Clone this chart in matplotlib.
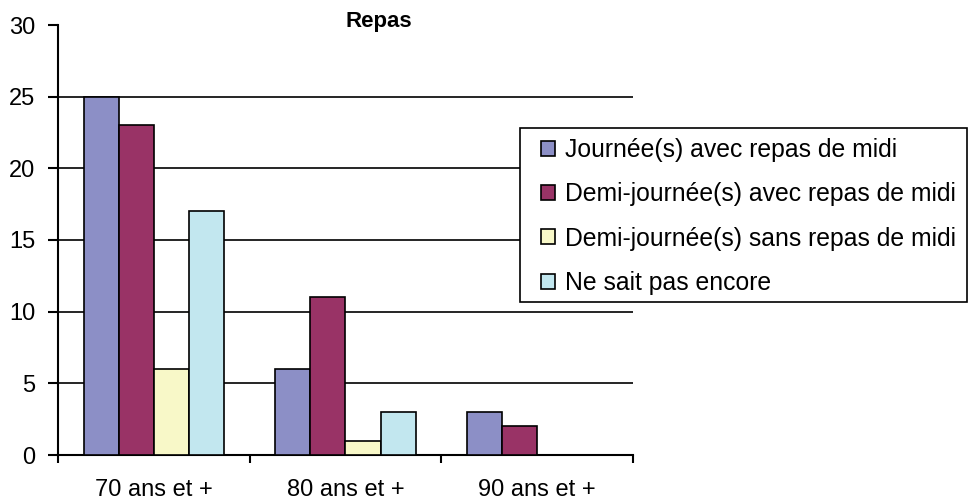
import numpy as np
import matplotlib.pyplot as plt
from matplotlib.patches import Rectangle

groups = ["70 ans et +", "80 ans et +", "90 ans et +"]
series = ["Journée(s) avec repas de midi", "Demi-journée(s) avec repas de midi",
          "Demi-journée(s) sans repas de midi", "Ne sait pas encore"]
journee_midi = [25, 6, 3]
demi_midi = [23, 11, 2]
demi_sans = [6, 1, 0]
ne_sait_pas = [17, 3, 0]
values = [journee_midi, demi_midi, demi_sans, ne_sait_pas]
colors = ["#8c8fc6", "#993366", "#f8f8c8", "#c2e7ef"]

plt.rcParams["font.family"] = ["Liberation Sans", "DejaVu Sans"]

fig = plt.figure(figsize=(9.68, 5.01), dpi=100)
ax = fig.add_axes([58 / 968, 1 - 455 / 501, 575 / 968, 430 / 501])

x = np.arange(len(groups))
w = 0.183
for i, (name, vals, c) in enumerate(zip(series, values, colors)):
    ax.bar(x + (i - 1.5) * w, vals, width=w, color=c, edgecolor="black",
           linewidth=1.2, label=name, zorder=3)

ax.set_xlim(-0.5, 2.5)
ax.set_ylim(0, 30)
ax.set_yticks(range(0, 31, 5))
for yv in range(5, 30, 5):
    ax.axhline(yv, color="black", linewidth=1.2, zorder=1)

ax.set_xticks([-0.5, 0.5, 1.5, 2.5])
ax.set_xticklabels([])
ax.set_xticks(x, minor=True)
ax.set_xticklabels(groups, minor=True, fontsize=17)
ax.tick_params(axis="x", which="minor", length=0, pad=17)
ax.tick_params(axis="x", which="major", direction="out", length=6, width=1.5)
ax.tick_params(axis="y", direction="out", length=7.2, width=1.5, labelsize=17, pad=9)

for s in ["top", "right"]:
    ax.spines[s].set_visible(False)
for s in ["left", "bottom"]:
    ax.spines[s].set_linewidth(1.5)

fig.text(379 / 968, 1 - 22 / 501, "Repas", ha="center", va="center",
         fontsize=16, fontweight="bold")

# legend frame drawn separately so the inner padding can match
frame = Rectangle((520 / 968, 1 - 302 / 501), 447 / 968, 174 / 501,
                  transform=fig.transFigure, facecolor="white",
                  edgecolor="black", linewidth=1.2, zorder=5)
fig.add_artist(frame)
leg = fig.legend(loc="upper left", bbox_to_anchor=(541 / 968, 1 - 138 / 501),
                 fontsize=17.8, frameon=False, handlelength=0.55,
                 handleheight=0.55, handletextpad=0.42, labelspacing=0.82,
                 borderpad=0, borderaxespad=0)
leg.set_zorder(6)

fig.savefig("out.png", dpi=100)
